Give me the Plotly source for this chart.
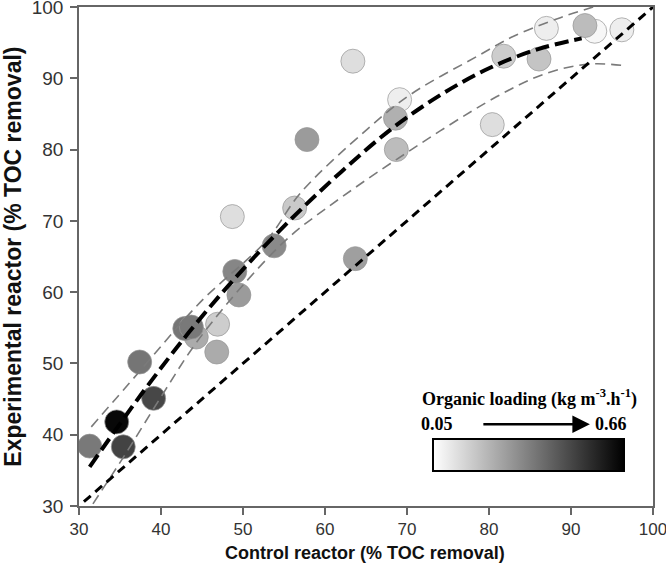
import plotly.graph_objects as go

# --- data ---
control = [31.3, 34.6, 35.4, 37.4, 39.1, 44.3, 42.9, 43.7, 46.9, 46.8, 49.5, 49.0, 48.7, 53.8,
           56.3, 57.8, 63.4, 63.7, 69.1, 68.6, 68.7, 80.4, 81.8, 86.1, 87.0, 92.9, 91.7, 96.2]
experimental = [38.4, 41.8, 38.3, 50.2, 45.1, 53.7, 54.9, 55.1, 55.5, 51.6, 59.6, 62.9, 70.6, 66.5,
                71.8, 81.4, 92.4, 64.7, 87.0, 84.4, 80.0, 83.5, 93.1, 92.7, 97.0, 96.6, 97.4, 96.8]
loading = [0.37, 0.64, 0.50, 0.38, 0.49, 0.25, 0.38, 0.37, 0.17, 0.25, 0.29, 0.34, 0.13, 0.33,
           0.18, 0.29, 0.13, 0.28, 0.09, 0.24, 0.21, 0.13, 0.17, 0.19, 0.09, 0.07, 0.21, 0.09]

fit_x = [31.3, 38.0, 44.0, 50.0, 56.0, 62.0, 68.0, 74.0, 80.0, 86.0, 91.3]
fit_y = [35.5, 46.3, 55.2, 63.2, 70.4, 76.9, 82.8, 87.6, 91.4, 94.1, 95.6]

upper_x = [31.5, 37.4, 44.8, 52.9, 57.0, 65.1, 70.4, 78.9, 83.0, 88.7, 92.7]
upper_y = [41.1, 48.9, 58.6, 67.3, 73.9, 82.8, 87.7, 93.3, 95.9, 98.5, 100.0]

lower_x = [31.7, 35.5, 40.0, 44.3, 50.4, 55.7, 60.2, 68.7, 80.9, 87.0, 92.3, 96.3]
lower_y = [30.3, 37.0, 45.3, 52.9, 61.5, 67.8, 71.8, 78.6, 87.4, 90.7, 92.0, 91.8]

identity_x = [30.6, 100.0]
identity_y = [30.6, 100.0]

loading_min, loading_max = 0.05, 0.66
x_ticks = [30, 40, 50, 60, 70, 80, 90, 100]
y_ticks = [30, 40, 50, 60, 70, 80, 90, 100]

SANS = "Liberation Sans, Arial, sans-serif"
SERIF = "Liberation Serif, Times New Roman, serif"

fig = go.Figure()

fig.add_trace(go.Scatter(
    x=control, y=experimental, mode="markers",
    marker=dict(
        size=24, color=loading, cmin=loading_min, cmax=loading_max,
        colorscale=[[0, "#ffffff"], [1, "#000000"]],
        line=dict(color="rgba(150,150,150,0.7)", width=1),
        showscale=True,
        colorbar=dict(
            orientation="h", x=0.783, xanchor="center", y=0.1007, yanchor="middle",
            lenmode="pixels", len=191, thickness=32, xpad=0, ypad=0,
            outlinewidth=2, outlinecolor="black",
            showticklabels=False, ticks="",
        ),
    ),
    showlegend=False, hoverinfo="x+y",
))

fig.add_trace(go.Scatter(x=upper_x, y=upper_y, mode="lines", line_shape="spline",
                         line=dict(color="#7a7a7a", width=1.6, dash="10px,6px"),
                         showlegend=False))
fig.add_trace(go.Scatter(x=lower_x, y=lower_y, mode="lines", line_shape="spline",
                         line=dict(color="#7a7a7a", width=1.6, dash="10px,6px"),
                         showlegend=False))
fig.add_trace(go.Scatter(x=fit_x, y=fit_y, mode="lines", line_shape="spline",
                         line=dict(color="black", width=4, dash="14px,6px"),
                         showlegend=False))
fig.add_trace(go.Scatter(x=identity_x, y=identity_y, mode="lines",
                         line=dict(color="black", width=3, dash="9px,6px"),
                         showlegend=False))

axis_common = dict(
    showline=True, linecolor="#666666", linewidth=1.5, mirror=True,
    ticks="outside", ticklen=7, tickcolor="#666666", tickwidth=1.5,
    showgrid=False, zeroline=False, ticklabeloverflow="allow",
)

fig.update_xaxes(range=[30, 100], tickvals=x_ticks,
                 tickfont=dict(family=SANS, size=17, color="#333333"),
                 **axis_common)
fig.update_yaxes(range=[30, 100], tickvals=y_ticks, ticklabelstandoff=3,
                 tickfont=dict(family=SANS, size=19, color="#333333"),
                 **axis_common)

# axis titles
fig.add_annotation(x=0.498, y=-0.0948, xref="paper", yref="paper", showarrow=False,
                   text="<b>Control reactor (% TOC removal)</b>",
                   font=dict(family=SANS, size=18, color="#111111"),
                   xanchor="center", yanchor="middle")
fig.add_annotation(x=-0.1165, y=0.50, xref="paper", yref="paper", showarrow=False,
                   text="<b>Experimental reactor (% TOC removal)</b>", textangle=-90,
                   font=dict(family=SANS, size=23, color="#111111"),
                   xanchor="center", yanchor="middle")

# colour legend texts
fig.add_annotation(x=0.784, y=0.216, xref="paper", yref="paper", showarrow=False,
                   text="<b>Organic loading (kg m<sup>-3</sup>.h<sup>-1</sup>)</b>",
                   font=dict(family=SERIF, size=18, color="black"),
                   xanchor="center", yanchor="middle")
fig.add_annotation(x=0.6245, y=0.1638, xref="paper", yref="paper", showarrow=False,
                   text="<b>%.2f</b>" % loading_min,
                   font=dict(family=SERIF, size=18, color="black"),
                   xanchor="center", yanchor="middle")
fig.add_annotation(x=0.927, y=0.1638, xref="paper", yref="paper", showarrow=False,
                   text="<b>%.2f</b>" % loading_max,
                   font=dict(family=SERIF, size=18, color="black"),
                   xanchor="center", yanchor="middle")
fig.add_annotation(x=0.890, y=0.1638, xref="paper", yref="paper", text="",
                   showarrow=True, ax=-108, ay=0, axref="pixel", ayref="pixel",
                   arrowhead=2, arrowsize=1.4, arrowwidth=2.5, arrowcolor="black")

fig.update_layout(
    width=666, height=568,
    margin=dict(l=79, r=13, t=7, b=62, autoexpand=False),
    plot_bgcolor="white", paper_bgcolor="white",
    showlegend=False,
)

# remove the page's default 8px body margin so the figure fills the window exactly
fig.write_html("out.html", config={"displayModeBar": False},
               post_script="document.body.style.margin='0px';")
